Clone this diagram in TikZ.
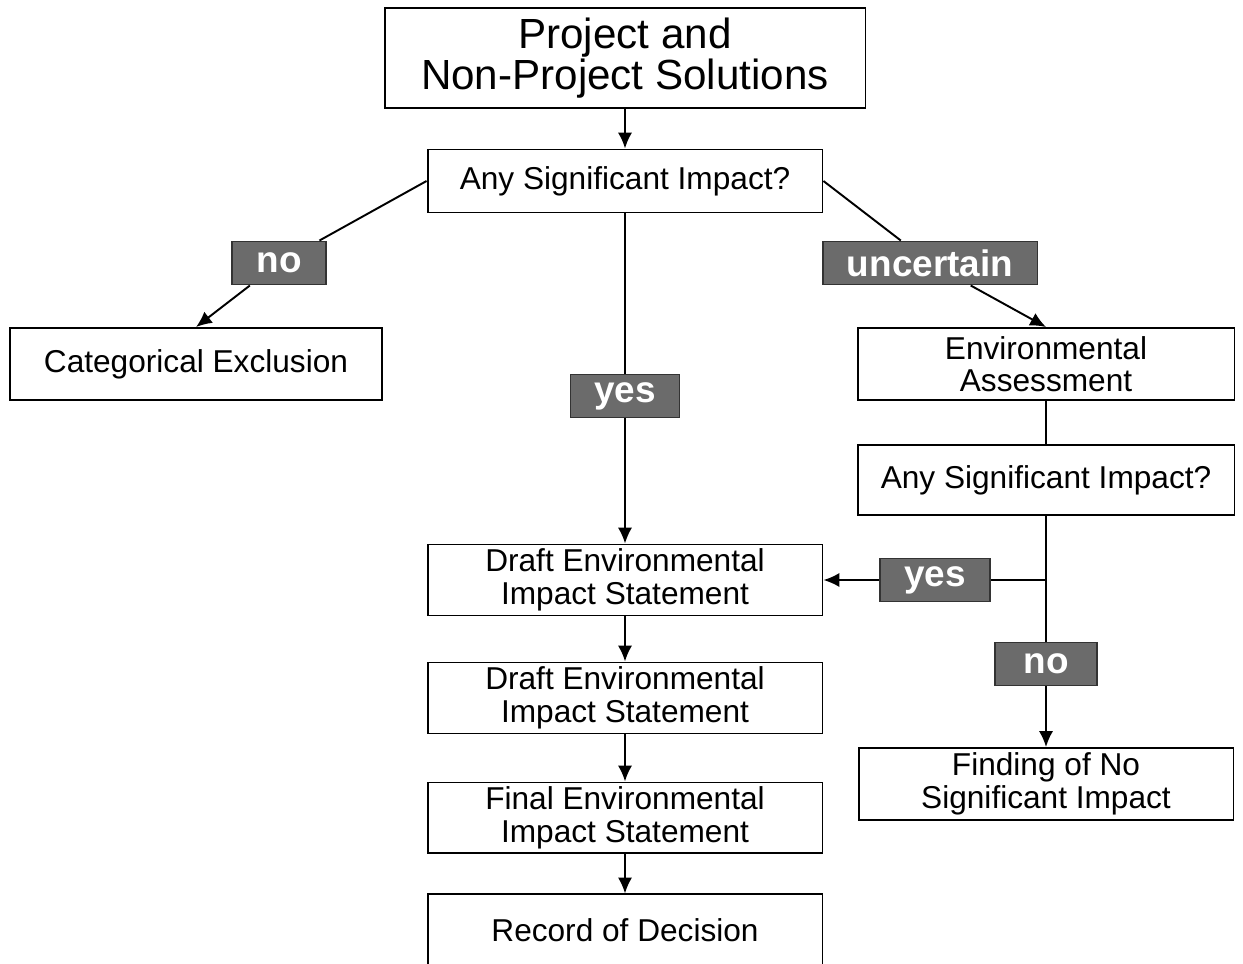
\documentclass[tikz,border=0pt]{standalone}
\usepackage{fontspec}
\setmainfont{Liberation Sans}
\usetikzlibrary{positioning, arrows.meta}

\tikzset{
  box/.style={draw, line width=1.1pt, minimum width=7.9cm, minimum height=1.42cm,
    align=center, inner sep=2pt, font=\fontsize{18}{18.5}\selectfont},
  tag/.style={draw=black!80, fill=black!58, line width=1.1pt, text=white,
    minimum height=0.86cm, inner sep=0pt, font=\bfseries\fontsize{21}{21}\selectfont},
  link/.style={line width=1.1pt, -{Latex[length=9pt,width=8pt]}},
  plain/.style={line width=1.1pt},
}

\begin{document}
\begin{tikzpicture}[x=0.02cm, y=-0.02cm, on grid]
        \path[use as bounding box, clip] (0,0) rectangle (1243,963);

        % main boxes
        \node[box, minimum width=9.62cm, minimum height=2cm,
              font=\fontsize{24}{23}\selectfont] (project) at (625,58) {Project and\\Non-Project Solutions};
        \node[box, minimum height=1.26cm] (ask) at (625,181) {Any Significant Impact?};
        \node[box, minimum width=7.44cm, minimum height=1.44cm] (catex) at (196,364) {Categorical Exclusion};
        \node[box, minimum width=7.54cm, minimum height=1.44cm] (ea) at (1046,364) {Environmental\\Assessment};
        \node[box, minimum width=7.54cm, minimum height=1.4cm] (askea) at (1046,480) {Any Significant Impact?};
        \node[box] (deis) at (625,580) {Draft Environmental\\Impact Statement};
        \node[box] (deisb) [below=2.36cm of deis] {Draft Environmental\\Impact Statement};
        \node[box] (feis) [below=2.4cm of deisb] {Final Environmental\\Impact Statement};
        \node[box] (rod) [below=2.24cm of feis] {Record of Decision};
        \node[box, minimum width=7.5cm, minimum height=1.44cm] (fonsi) at (1046,784) {Finding of No\\Significant Impact};

        % answer tags
        \node[tag, minimum width=1.88cm] (no) at (279,263) {no};
        \node[tag, minimum width=4.3cm] (unsure) at (930,263) {uncertain};
        \node[tag, minimum width=2.18cm] (yes) at (625,396) {yes};
        \node[tag, minimum width=2.2cm] (yesea) at (935,580) {yes};
        \node[tag, minimum width=2.04cm] (noea) at (1046,664) {no};
        \coordinate (split) at (1046,580);

        \draw[link] (project) -- (ask);
        \draw[plain] (ask.west) -- (no);
        \draw[link] (no) -- (catex.north);
        \draw[plain] (ask.east) -- (unsure);
        \draw[link] (unsure) -- (ea.north);
        \draw[plain] (ask) -- (yes);
        \draw[link] (yes) -- (deis);

        \draw[plain] (ea) -- (askea);
        \draw[plain] (askea) -- (noea);
        \draw[link] (noea) -- (fonsi);
        \draw[plain] (split) -- (yesea);
        \draw[link] (yesea) -- (deis);

        \draw[link] (deis) -- (deisb);
        \draw[link] (deisb) -- (feis);
        \draw[link] (feis) -- (rod);
      \end{tikzpicture}
\end{document}
